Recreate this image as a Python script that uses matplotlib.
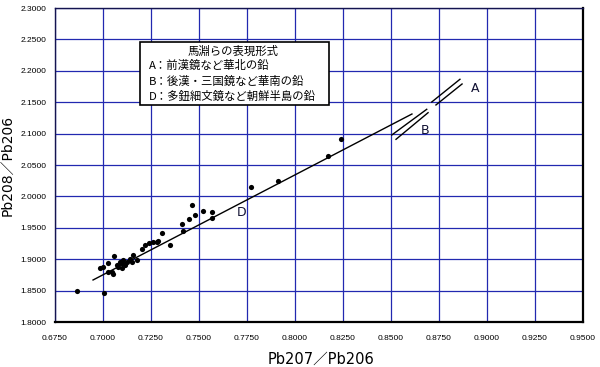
import numpy as np
import matplotlib
matplotlib.use("Agg")
import matplotlib.pyplot as plt
from matplotlib.patches import Rectangle

# ── Data ─────────────────────────────────────────────────────────────────────
pb207_206 = [0.6863, 0.7007, 0.6984, 0.7002, 0.7028, 0.7045, 0.7052, 0.7057,
             0.7071, 0.7089, 0.7097, 0.7106, 0.7115, 0.7123, 0.7080, 0.7099,
             0.7028, 0.7141, 0.7149, 0.7176, 0.7158, 0.7202, 0.7219, 0.7241,
             0.7262, 0.7280, 0.7288, 0.7306, 0.7349, 0.7410, 0.7415, 0.7450,
             0.7462, 0.7479, 0.7519, 0.7566, 0.7566, 0.7769, 0.7913, 0.8173,
             0.8241]
pb208_206 = [1.8494, 1.8467, 1.8855, 1.8881, 1.8791, 1.8801, 1.8764, 1.9056,
             1.8908, 1.8960, 1.8935, 1.8987, 1.8908, 1.8960, 1.8881, 1.8860,
             1.8935, 1.9003, 1.8960, 1.8987, 1.9067, 1.9162, 1.9226, 1.9253,
             1.9279, 1.9279, 1.9295, 1.9412, 1.9226, 1.9561, 1.9454, 1.9635,
             1.9863, 1.9704, 1.9772, 1.9756, 1.9651, 2.0145, 2.0245, 2.0648,
             2.0911]

# line D (Korean peninsula) and the short A / B segments
line_d_x = [0.6948, 0.8609]
line_d_y = [1.8669, 2.1312]
line_b1_x = [0.8504, 0.8686]
line_b1_y = [2.0978, 2.1387]
line_b2_x = [0.8526, 0.8693]
line_b2_y = [2.0909, 2.1333]
line_a1_x = [0.8712, 0.8859]
line_a1_y = [2.1503, 2.1865]
line_a2_x = [0.8734, 0.8870]
line_a2_y = [2.1456, 2.1790]

x_ticks = [0.675, 0.700, 0.725, 0.750, 0.775, 0.800, 0.825, 0.850, 0.875,
           0.900, 0.925, 0.950]
y_ticks = [1.80, 1.85, 1.90, 1.95, 2.00, 2.05, 2.10, 2.15, 2.20, 2.25, 2.30]

legend_title = "馬淵らの表現形式"
legend_lines = ["A：前漢鏡など華北の鉛",
                "B：後漢・三国鏡など華南の鉛",
                "D：多鈕細文鏡など朝鮮半島の鉛"]

# ── Style ────────────────────────────────────────────────────────────────────
GRID = "#2229b0"
EDGE = "#141450"
CJK = ["Noto Sans CJK JP", "DejaVu Sans"]

fig = plt.figure(figsize=(6.0, 3.67), dpi=100)
ax = fig.add_axes([0.0917, 0.1226, 0.88, 0.8556])

ax.scatter(pb207_206, pb208_206, s=14, color="black", zorder=3, linewidths=0)
ax.plot(line_d_x, line_d_y, color="black", lw=1.0, zorder=3)
for xs, ys in [(line_b1_x, line_b1_y), (line_b2_x, line_b2_y),
               (line_a1_x, line_a1_y), (line_a2_x, line_a2_y)]:
    ax.plot(xs, ys, color="black", lw=1.0, zorder=3)

ax.text(0.8938, 2.1720, "A", fontsize=9, ha="center", va="center", color="#111133")
ax.text(0.8677, 2.1057, "B", fontsize=9, ha="center", va="center", color="#111133")
ax.text(0.7724, 1.9736, "D", fontsize=9, ha="center", va="center", color="#111133")

ax.set_xlim(0.675, 0.95)
ax.set_ylim(1.80, 2.30)
ax.set_xticks(x_ticks)
ax.set_yticks(y_ticks)
ax.set_xticklabels([f"{v:.4f}" for v in x_ticks], family="Liberation Sans", fontsize=6)
ax.set_yticklabels([f"{v:.4f}" for v in y_ticks], family="Liberation Sans", fontsize=6)
ax.tick_params(length=0)
ax.tick_params(axis="x", pad=9)
ax.tick_params(axis="y", pad=6)
ax.grid(True, color=GRID, lw=0.9, zorder=1)
ax.set_axisbelow(True)
for side in ["left", "top"]:
    ax.spines[side].set_color(EDGE)
    ax.spines[side].set_linewidth(1.0)
for side in ["right", "bottom"]:
    ax.spines[side].set_color("black")
    ax.spines[side].set_linewidth(1.6)

ax.set_xlabel("Pb207／Pb206", family=["DejaVu Sans", "Noto Sans CJK JP"],
              fontsize=10.5, labelpad=4)
ax.set_ylabel("Pb208／Pb206", family=["DejaVu Sans", "Noto Sans CJK JP"],
              fontsize=10, labelpad=4)
ax.xaxis.set_label_coords(0.503, -0.095)
ax.yaxis.set_label_coords(-0.077, 0.5)

# legend box
ax.add_patch(Rectangle((0.161, 0.691), 0.357, 0.202, transform=ax.transAxes,
                       facecolor="white", edgecolor="black", lw=1.2, zorder=4))
ax.text(0.338, 0.861, legend_title, transform=ax.transAxes, family=CJK,
        fontsize=8.2, ha="center", va="center", zorder=5)
for txt, yy in zip(legend_lines, [0.8185, 0.765, 0.7175]):
    ax.text(0.178, yy, txt, transform=ax.transAxes, family=CJK,
            fontsize=8.2, ha="left", va="center", zorder=5)

fig.savefig("out.png", dpi=100, facecolor="white")
